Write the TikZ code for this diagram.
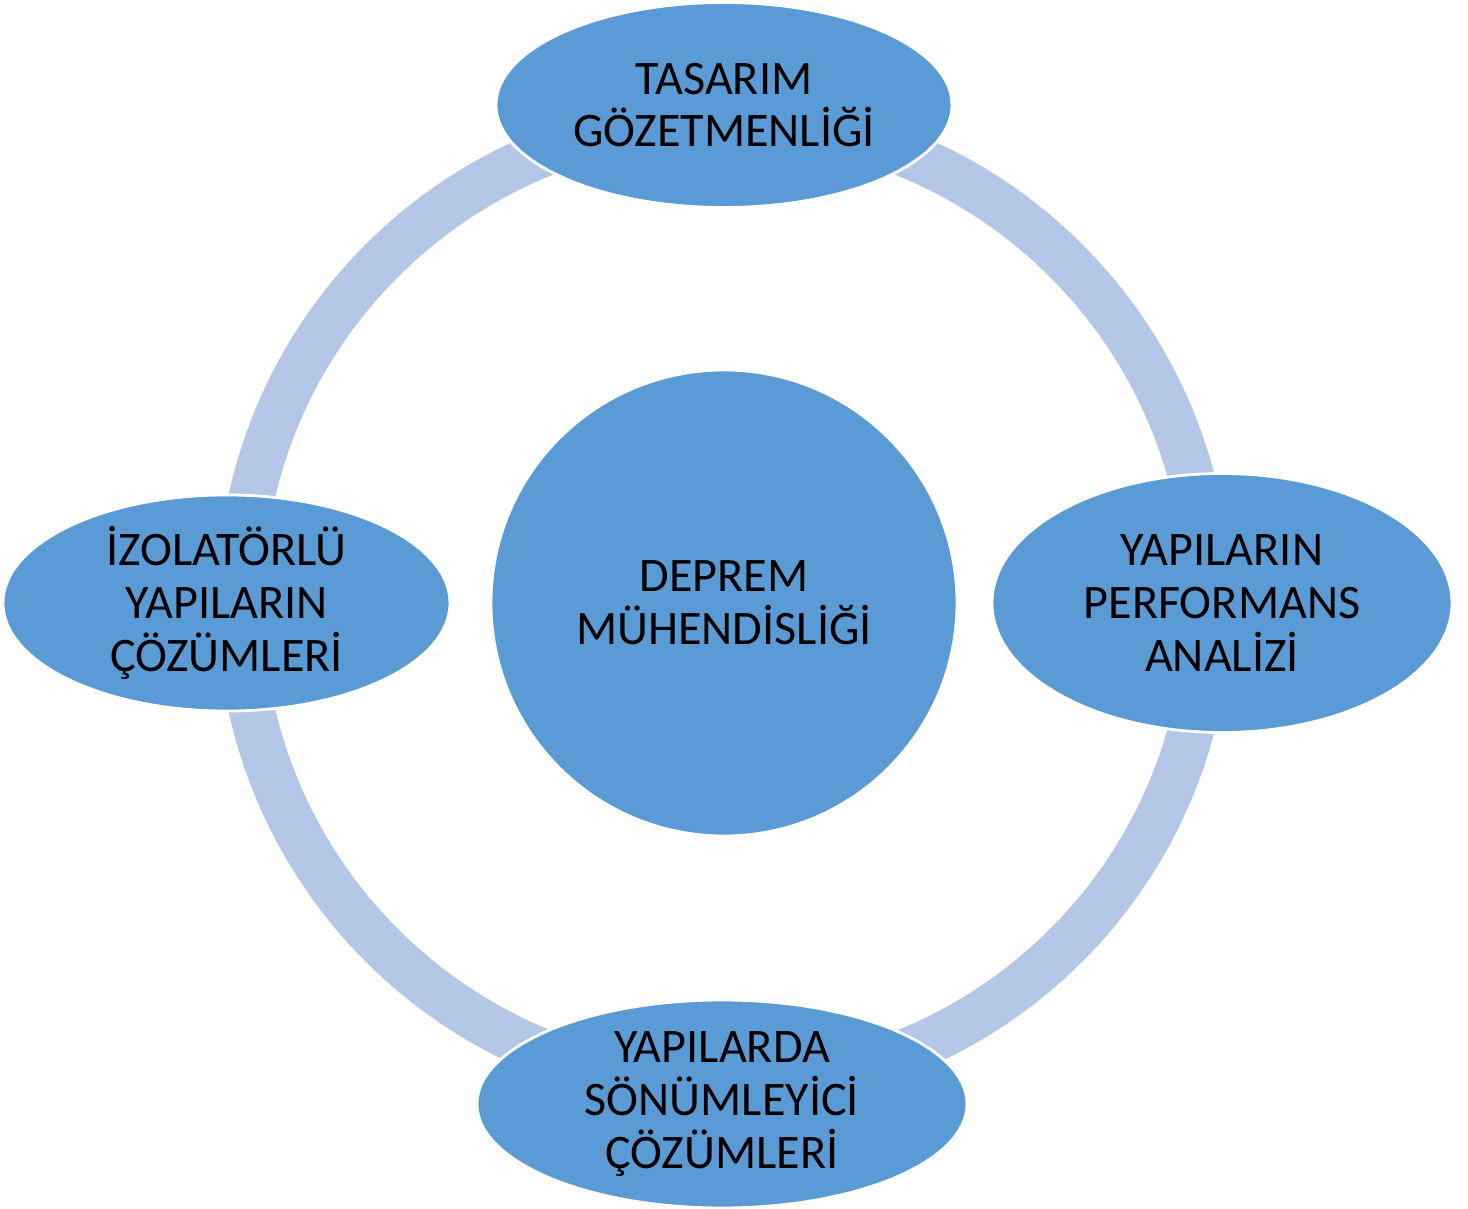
\documentclass[tikz,border=0pt]{standalone}
\usepackage{fontspec}
\setmainfont{Carlito}
\usetikzlibrary{shapes.geometric}
\definecolor{kutumavi}{RGB}{91,155,213}
\definecolor{halkamavi}{RGB}{180,199,231}
\tikzset{
	konu/.style = {ellipse, fill = kutumavi, draw = white, line width = 0.8pt, inner sep = 0mm, align = center, text = black, font = \fontsize{13.7}{15}\selectfont},
	merkez/.style = {konu, circle, minimum size = 4.66cm},
	halka/.style = {draw = halkamavi, line width = 0.46cm}
}
\begin{document}
\begin{tikzpicture}
			\useasboundingbox (-7.24, -6.06) rectangle (7.44, 6.03);

			% merkez ve halka
			\node [merkez] (deprem) at (0, 0) {DEPREM\\MÜHENDİSLİĞİ};
			\draw [halka] (deprem.center) circle (4.84);

			% dort konu
			\node [konu, minimum width = 4.56cm, minimum height = 2.05cm] (tasarim) at (0, 4.98) {TASARIM\\GÖZETMENLİĞİ};
			\node [konu, minimum width = 4.60cm, minimum height = 2.59cm] (performans) at (4.98, 0) {YAPILARIN\\PERFORMANS\\ANALİZİ};
			\node [konu, minimum width = 4.90cm, minimum height = 2.08cm] (sonum) at (-0.02, -5.01) {YAPILARDA\\SÖNÜMLEYİCİ\\ÇÖZÜMLERİ};
			\node [konu, minimum width = 4.47cm, minimum height = 2.10cm] (izolator) at (-4.975, 0) {İZOLATÖRLÜ\\YAPILARIN\\ÇÖZÜMLERİ};
		\end{tikzpicture}
\end{document}
